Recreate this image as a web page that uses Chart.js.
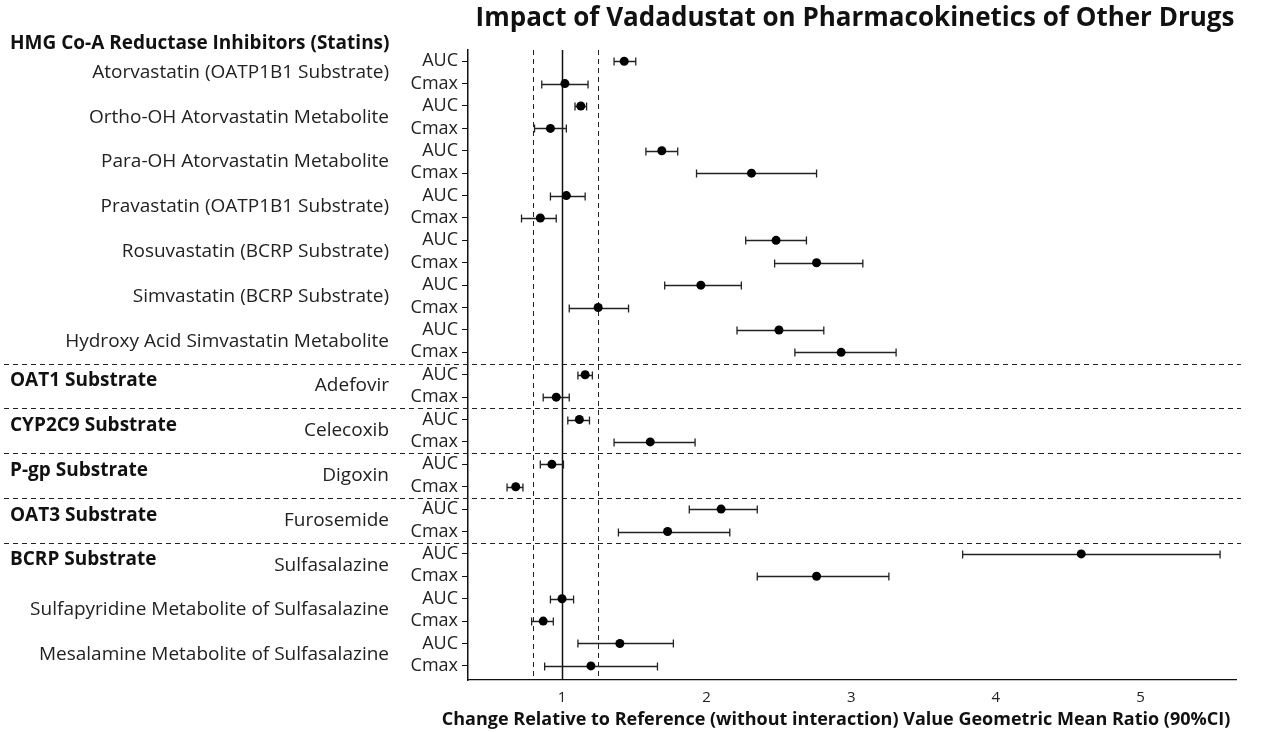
<!DOCTYPE html>
<html>
<head>
<meta charset="utf-8">
<script src="https://cdn.jsdelivr.net/npm/chart.js@4.4.1/dist/chart.umd.min.js"></script>
<style>
  html, body { margin: 0; padding: 0; background: #ffffff; }
  #wrap { width: 1261px; height: 732px; }
</style>
</head>
<body>
<div id="wrap"><canvas id="c" width="1261" height="732"></canvas></div>
<script>
// ---------- data ----------
const chartTitle = "Impact of Vadadustat on Pharmacokinetics of Other Drugs";
const xAxisTitle = "Change Relative to Reference (without interaction) Value Geometric Mean Ratio (90%CI)";
const groupNames = [
  "HMG Co-A Reductase Inhibitors (Statins)",
  "OAT1 Substrate",
  "CYP2C9 Substrate",
  "P-gp Substrate",
  "OAT3 Substrate",
  "BCRP Substrate"
];
const groupFirstDrug = [0, 7, 8, 9, 10, 11];
const drugs = [
  "Atorvastatin (OATP1B1 Substrate)",
  "Ortho-OH Atorvastatin Metabolite",
  "Para-OH Atorvastatin Metabolite",
  "Pravastatin (OATP1B1 Substrate)",
  "Rosuvastatin (BCRP Substrate)",
  "Simvastatin (BCRP Substrate)",
  "Hydroxy Acid Simvastatin Metabolite",
  "Adefovir",
  "Celecoxib",
  "Digoxin",
  "Furosemide",
  "Sulfasalazine",
  "Sulfapyridine Metabolite of Sulfasalazine",
  "Mesalamine Metabolite of Sulfasalazine"
];
const metrics = ["AUC", "Cmax"];
// one value per row: drug0 AUC, drug0 Cmax, drug1 AUC, ...
const gmr    = [1.43, 1.02, 1.13, 0.92, 1.69, 2.31, 1.03, 0.85, 2.48, 2.76, 1.96, 1.25, 2.50, 2.93,
                1.16, 0.96, 1.12, 1.61, 0.93, 0.68, 2.10, 1.73, 4.59, 2.76, 1.00, 0.87, 1.40, 1.20];
const ciLow  = [1.36, 0.86, 1.09, 0.81, 1.58, 1.93, 0.92, 0.72, 2.27, 2.47, 1.71, 1.05, 2.21, 2.61,
                1.11, 0.87, 1.04, 1.36, 0.85, 0.62, 1.88, 1.39, 3.77, 2.35, 0.92, 0.79, 1.11, 0.88];
const ciHigh = [1.51, 1.18, 1.17, 1.03, 1.80, 2.76, 1.16, 0.96, 2.69, 3.08, 2.24, 1.46, 2.81, 3.31,
                1.21, 1.05, 1.19, 1.92, 1.01, 0.73, 2.35, 2.16, 5.55, 3.26, 1.08, 0.94, 1.77, 1.66];
const xTicks = [1, 2, 3, 4, 5];
const noEffect = 1;
const boundLow = 0.8;
const boundHigh = 1.25;

// ---------- chart ----------
const rows = gmr.map((_, i) => i);
const points = gmr.map((v, i) => ({ x: v, y: i }));

const FONT = "'Open Sans', 'DejaVu Sans', sans-serif";

const forestPlugin = {
  id: 'forest',
  beforeDatasetsDraw(chart) {
    const ctx = chart.ctx;
    const xs = chart.scales.x, ys = chart.scales.y;
    const a = chart.chartArea;
    ctx.save();
    // horizontal group separators
    ctx.strokeStyle = '#222';
    ctx.lineWidth = 1;
    ctx.setLineDash([5, 4]);
    for (let g = 1; g < groupFirstDrug.length; g++) {
      const y = Math.round(ys.getPixelForValue(groupFirstDrug[g] * 2 - 0.5)) + 0.5;
      ctx.beginPath();
      ctx.moveTo(4, y);
      ctx.lineTo(a.right + 5, y);
      ctx.stroke();
    }
    // bound lines
    [boundLow, boundHigh].forEach(v => {
      const x = Math.round(xs.getPixelForValue(v)) + 0.5;
      ctx.beginPath();
      ctx.moveTo(x, a.top);
      ctx.lineTo(x, a.bottom);
      ctx.stroke();
    });
    ctx.setLineDash([]);
    // no-effect line
    const x1 = Math.round(xs.getPixelForValue(noEffect)) + 0.5;
    ctx.lineWidth = 1.5;
    ctx.strokeStyle = '#111';
    ctx.beginPath();
    ctx.moveTo(x1, a.top);
    ctx.lineTo(x1, a.bottom);
    ctx.stroke();
    // error bars
    ctx.lineWidth = 1.3;
    ctx.strokeStyle = '#222';
    rows.forEach(i => {
      const y = Math.round(ys.getPixelForValue(i)) + 0.5;
      const xl = xs.getPixelForValue(ciLow[i]);
      const xh = xs.getPixelForValue(ciHigh[i]);
      ctx.beginPath();
      ctx.moveTo(xl, y); ctx.lineTo(xh, y);
      ctx.moveTo(xl, y - 4); ctx.lineTo(xl, y + 4);
      ctx.moveTo(xh, y - 4); ctx.lineTo(xh, y + 4);
      ctx.stroke();
    });
    ctx.restore();
  },
  afterDraw(chart) {
    const ctx = chart.ctx;
    const ys = chart.scales.y;
    const a = chart.chartArea;
    ctx.save();
    ctx.fillStyle = '#111';
    // title
    ctx.font = "bold 26px " + FONT;
    ctx.textAlign = 'center';
    ctx.textBaseline = 'middle';
    ctx.fillText(chartTitle, 855, 19);
    // x axis title
    ctx.font = "bold 18px " + FONT;
    ctx.fillText(xAxisTitle, 836, 720);
    // drug labels
    ctx.font = "19px " + FONT;
    ctx.textAlign = 'right';
    ctx.fillStyle = '#222';
    drugs.forEach((d, k) => {
      const y = ys.getPixelForValue(k * 2 + 0.5);
      ctx.fillText(d, 389, y);
    });
    // group labels
    ctx.font = "bold 19px " + FONT;
    ctx.textAlign = 'left';
    ctx.fillStyle = '#111';
    groupNames.forEach((g, k) => {
      let y;
      if (k === 0) y = a.top - 6;
      else y = ys.getPixelForValue(groupFirstDrug[k] * 2 + 0.27);
      ctx.fillText(g, 10, y);
    });
    ctx.restore();
  }
};

new Chart(document.getElementById('c'), {
  type: 'scatter',
  data: {
    datasets: [{
      data: points,
      pointRadius: 4.5,
      pointHoverRadius: 4.5,
      pointBackgroundColor: '#000',
      pointBorderColor: '#000',
      pointBorderWidth: 0
    }]
  },
  options: {
    responsive: false,
    animation: false,
    devicePixelRatio: 1,
    layout: { padding: { top: 50, right: 25, left: 0, bottom: 0 } },
    plugins: {
      legend: { display: false },
      title: { display: false },
      tooltip: { enabled: false }
    },
    scales: {
      x: {
        type: 'linear',
        min: 0.35,
        max: 5.66,
        afterBuildTicks: s => { s.ticks = xTicks.map(v => ({ value: v })); },
        afterFit: s => { s.height = 52; },
        grid: { display: false, drawTicks: false },
        border: { display: true, color: '#111', width: 1.2 },
        ticks: {
          padding: 9,
          color: '#222',
          font: { family: FONT, size: 15 },
          callback: v => String(v)
        }
      },
      y: {
        type: 'linear',
        reverse: true,
        min: -0.5,
        max: 27.63,
        afterBuildTicks: s => { s.ticks = rows.map(v => ({ value: v })); },
        afterFit: s => { s.width = 468; },
        grid: { display: true, drawOnChartArea: false, drawTicks: true, tickLength: 6, color: '#111' },
        border: { display: true, color: '#111', width: 1.5 },
        ticks: {
          padding: 4,
          color: '#222',
          font: { family: FONT, size: 18 },
          autoSkip: false,
          callback: v => metrics[v % 2]
        }
      }
    }
  },
  plugins: [forestPlugin]
});
</script>
</body>
</html>
